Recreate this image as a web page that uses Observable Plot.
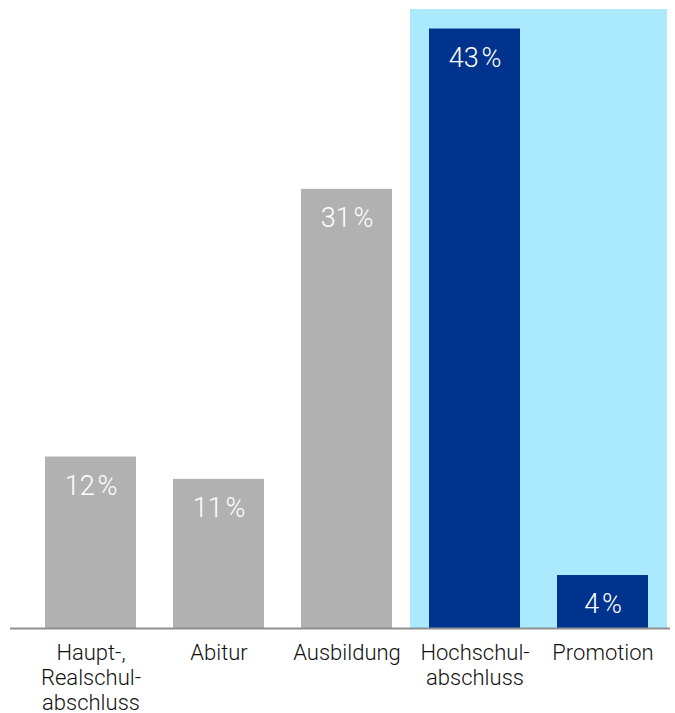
<!DOCTYPE html>
<html><head><meta charset="utf-8">
<script src="https://cdn.jsdelivr.net/npm/d3@7"></script>
<script src="https://cdn.jsdelivr.net/npm/@observablehq/plot@0.6"></script>
<style>body{margin:0;background:#fff} svg{display:block}</style>
</head><body><div id="chart"></div>
<script>
const categories = ["Haupt-,\nRealschul-\nabschluss", "Abitur", "Ausbildung", "Hochschul-\nabschluss", "Promotion"];
const values = [12.3, 10.7, 31.5, 43.0, 3.8];
const labels = ["12\u200A%", "11\u200A%", "31\u200A%", "43\u200A%", "4\u200A%"];
const highlighted = ["Hochschul-\nabschluss", "Promotion"];
const yMax = 44.4;

const data = categories.map((c, i) => ({category: c, value: values[i], label: labels[i], hi: highlighted.includes(c)}));

const chart = Plot.plot({
  width: 675, height: 713,
  marginTop: 9, marginBottom: 85, marginLeft: 10, marginRight: 5,
  style: {fontFamily: "Roboto, sans-serif", background: "#fff", overflow: "visible"},
  x: {domain: categories, range: [25.5, 668], paddingInner: 0.29, paddingOuter: 0.145},
  y: {domain: [0, yMax], axis: null},
  marks: [
    Plot.barY(data.filter(d => d.hi), {x: "category", y1: () => 0, y2: () => yMax, fill: "#abe9ff", insetLeft: -19, insetRight: -19}),
    Plot.barY(data.filter(d => !d.hi), {x: "category", y: "value", fill: "#b1b1b1"}),
    Plot.barY(data.filter(d => d.hi), {x: "category", y: "value", fill: "#00338d"}),
    Plot.ruleY([0], {stroke: "#8f8f8f", strokeWidth: 2}),
    Plot.text(data, {x: "category", y: "value", text: "label", dy: 29, fill: "#fff", fontSize: 27, fontWeight: 300}),
    Plot.axisX({tickSize: 0, tickPadding: 14, fontSize: 22, fontWeight: 300, lineHeight: 1.14, fill: "#111", label: null})
  ]
});
document.getElementById("chart").append(chart);
</script>
</body></html>
